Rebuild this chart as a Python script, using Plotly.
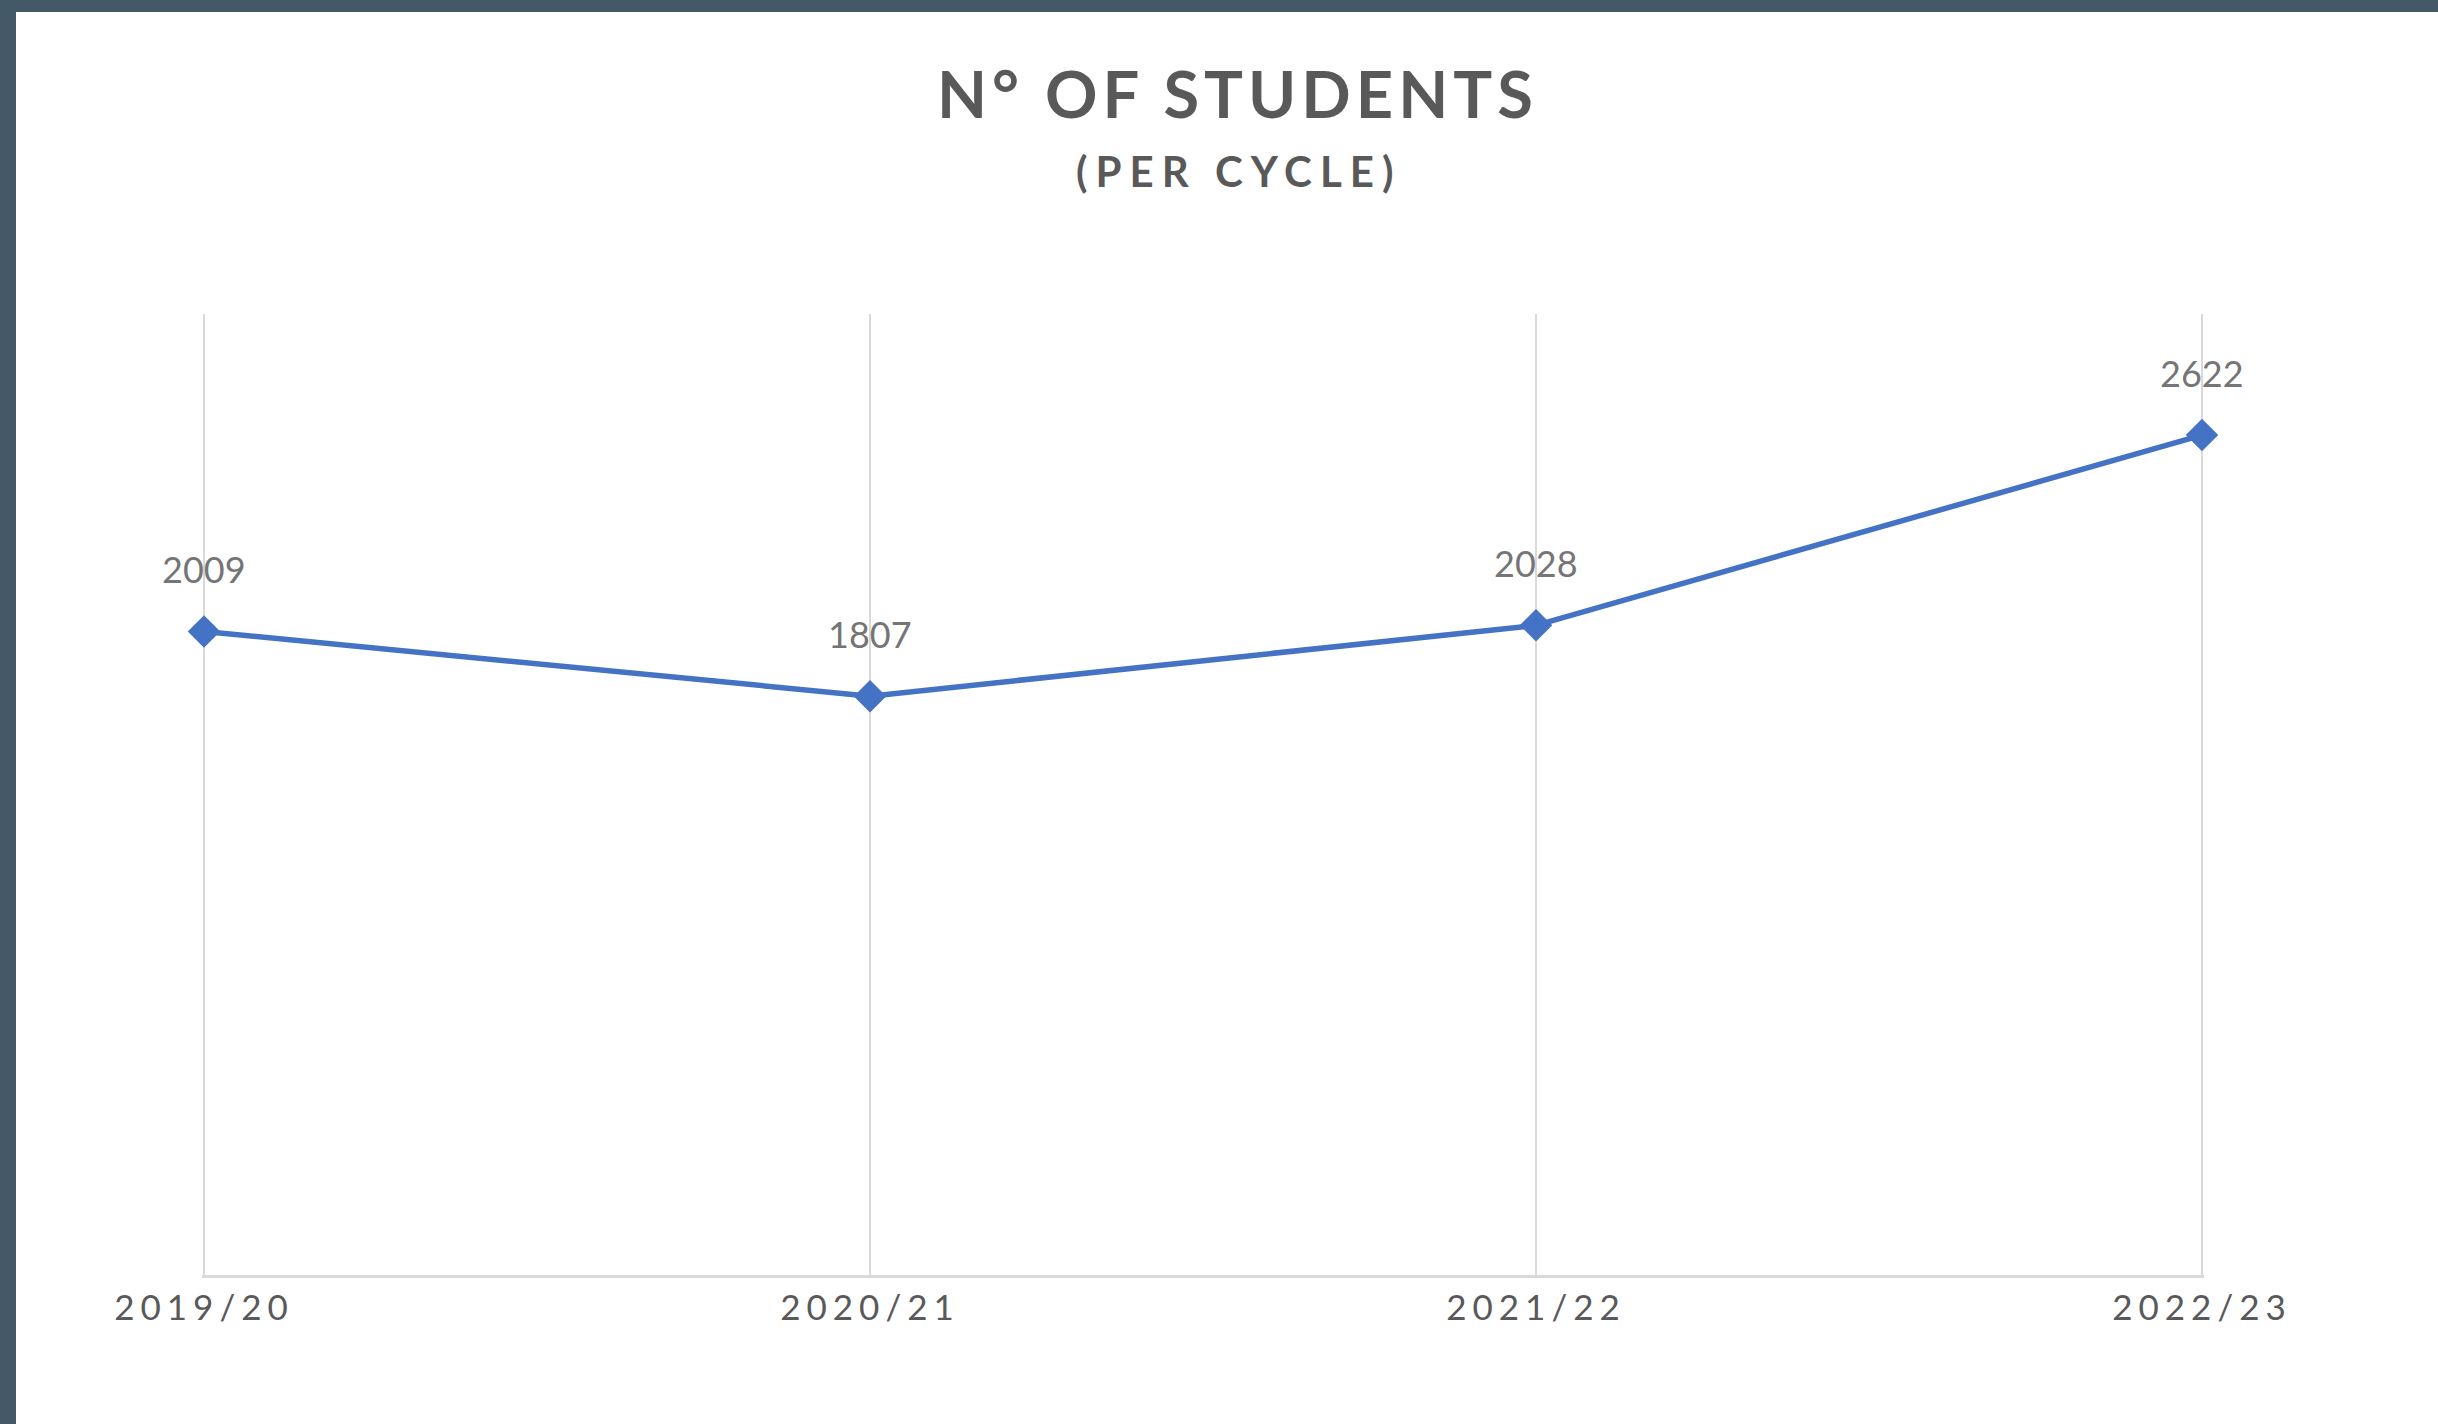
import plotly.graph_objects as go

# ---- data ----
cycles = ["2019/20", "2020/21", "2021/22", "2022/23"]
students = [2009, 1807, 2028, 2622]
title_text = "N° OF STUDENTS"
subtitle_text = "(PER CYCLE)"

W, H = 2438, 1424
EXT = 0.003  # small range extension so edge gridlines are drawn
L, R, T, B = 202, 234, 314, 149
pw, ph = W - L - R, H - T - B

def px_x(p):
    return (p - L) / pw

def px_y(p):
    return (H - B - p) / ph

line_color = "#4472C4"
font_family = "Lato, 'Noto Sans', sans-serif"

fig = go.Figure()
fig.add_trace(go.Scatter(
    x=cycles, y=students, mode="lines+markers",
    line=dict(color=line_color, width=5.5),
    marker=dict(symbol="diamond", size=25, color=line_color),
    cliponaxis=False, hoverinfo="x+y", showlegend=False,
))

annotations = []
for c, v in zip(cycles, students):
    annotations.append(dict(
        x=c, y=v, xref="x", yref="y", text=str(v), showarrow=False,
        yshift=62, yanchor="middle", xanchor="center",
        font=dict(family=font_family, size=36, color="#757575"),
    ))

annotations.append(dict(
    x=px_x(1237), y=px_y(93), xref="paper", yref="paper",
    text="<b><span style='letter-spacing:5px'>" + title_text + "</span></b>",
    showarrow=False, xanchor="center", yanchor="middle",
    font=dict(family=font_family, size=65, color="#595959"),
))
annotations.append(dict(
    x=px_x(1238), y=px_y(171), xref="paper", yref="paper",
    text="<b><span style='letter-spacing:8px'>" + subtitle_text + "</span></b>",
    showarrow=False, xanchor="center", yanchor="middle",
    font=dict(family=font_family, size=42, color="#595959"),
))

border = "#435968"
shapes = [
    dict(type="rect", xref="paper", yref="paper", layer="above",
         x0=px_x(-2), x1=px_x(16), y0=px_y(H + 2), y1=px_y(-2),
         fillcolor=border, line=dict(width=0)),
    dict(type="rect", xref="paper", yref="paper", layer="above",
         x0=px_x(-2), x1=px_x(W + 2), y0=px_y(12), y1=px_y(-2),
         fillcolor=border, line=dict(width=0)),
]

fig.update_layout(
    width=W, height=H,
    margin=dict(l=L, r=R, t=T, b=B, pad=0),
    paper_bgcolor="white", plot_bgcolor="white",
    annotations=annotations, shapes=shapes,
    hovermode=False,
    xaxis=dict(
        type="category", range=[-EXT, len(cycles) - 1 + EXT],
        tickvals=cycles,
        ticktext=["<span style='letter-spacing:6px'>" + c + "</span>" for c in cycles],
        showgrid=True, gridcolor="#d9d9d9", gridwidth=2,
        showline=True, linecolor="#d9d9d9", linewidth=3,
        ticks="", zeroline=False,
        tickfont=dict(family=font_family, size=35, color="#595959"),
        ticklabelstandoff=0,
    ),
    yaxis=dict(range=[0, 3000], visible=False, showgrid=False, zeroline=False),
)

fig.write_html("out.html", config={"displayModeBar": False},
               post_script="document.body.style.margin='0px';")
